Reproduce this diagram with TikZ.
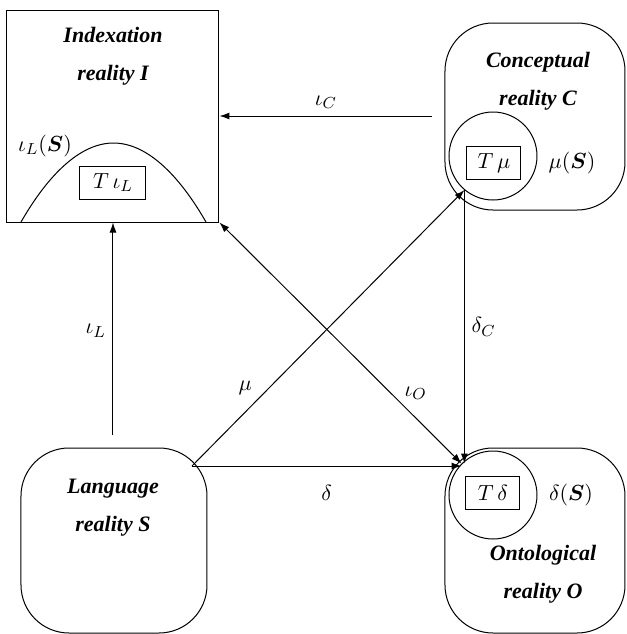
\documentclass[tikz,border=0pt]{standalone}
\usepackage{amsmath}
\usepackage{bm}
\usepackage{fontspec}
\setmainfont{Liberation Serif}
\usetikzlibrary{arrows.meta}

\tikzset{
    every node/.style={font=\fontsize{11}{13}\selectfont},
    map/.style={draw, line width=0.5pt, -{Latex[length=5pt,width=3.5pt]}},
    realm/.style={draw, line width=0.5pt, rounded corners=24pt},
    image/.style={draw, line width=0.5pt, circle, minimum size=44pt, inner sep=0pt},
    tbox/.style={draw, line width=0.5pt, minimum width=27pt, minimum height=16.5pt, inner sep=0pt},
    title/.style={align=center, font=\fontsize{11}{19}\selectfont\bfseries\itshape},
}

\begin{document}
\begin{tikzpicture}[x=0.5pt, y=-0.5pt]
        \useasboundingbox (0,0) rectangle (627,634);
        % realities
        \node [draw, line width=0.5pt, minimum size=106pt] (indexI) at (113,116) {};
        \node [realm, minimum width=90pt, minimum height=93.5pt] (concC) at (535,116.5) {};
        \node [realm, minimum width=90pt, minimum height=92.5pt] (ontO) at (535,540.5) {};
        \node [realm, minimum width=93pt, minimum height=92.5pt] (langS) at (114,540.5) {};
        \node [title] (tI) at (113,56) {Indexation\\reality I};
        \node [title] (tC) at (538,81) {Conceptual\\reality C};
        \node [title] (tO) at (543,574) {Ontological\\reality O};
        \node [title] (tS) at (113,508) {Language\\reality S};
        % images of S
        \draw [line width=0.5pt] (21,222) parabola bend (113.5,143) (206,222);
        \node [tbox, minimum width=33pt] (tiota) at (113,182.5) {$T\,\iota_L$};
        \node (iotaS) at (45,146) {$\iota_L(\bm{S})$};
        \node [image] (muC) at (493,156) {};
        \node [tbox] (tmu) at (494,163) {$T\,\mu$};
        \node (muS) at (572,163) {$\mu(\bm{S})$};
        \node [image] (deltaO) at (493,495) {};
        \node [tbox] (tdelta) at (493,493) {$T\,\delta$};
        \node (deltaS) at (571,495) {$\delta(\bm{S})$};
        % maps
        \coordinate (iLfoot) at (113,435);
        \coordinate (iCfoot) at (432,116);
        \coordinate (sCorner) at (192,466);
        \draw [map] (iLfoot) -- node [left, pos=0.49] (lblIL) {$\iota_L$} (indexI.south);
        \draw [map] (iCfoot) -- node [above] (lblIC) {$\iota_C$} (indexI.east);
        \draw [map] (sCorner) -- node [pos=0.24, anchor=south east, inner sep=2.5pt] (lblMu) {$\mu$} (muC.230);
        \draw [map] (muC.230) -- node [right] (lblDC) {$\delta_C$} (muC.230 |- deltaO.135);
        \draw [map] (sCorner) -- node [below=6pt] (lblD) {$\delta$} (sCorner -| deltaO.135);
        \draw [map, {Latex[length=5pt,width=3.5pt]}-{Latex[length=5pt,width=3.5pt]}] (indexI.south east) -- node [pos=0.75, anchor=south west, inner sep=1.5pt] (lblIO) {$\iota_O$} (deltaO.135);
\end{tikzpicture}
\end{document}
